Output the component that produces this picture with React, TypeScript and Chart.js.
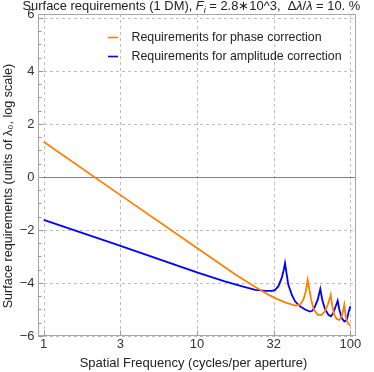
import React, { useEffect, useRef } from "react";
import { Chart, registerables } from "chart.js";

Chart.register(...registerables);

// ---- data ----
const phaseFreq = [1, 3, 10, 18, 24, 29.2, 32.3, 37.5, 43.6, 47, 49.4, 51.2, 52.7, 53.8, 55.4, 57.4, 58.9, 61.3, 65, 68.3, 71.9, 74.5, 76.3, 78.7, 81.5, 84.8, 87.9, 91.4, 93.3, 96.2, 100];
const phaseReq = [1.33, -0.59, -2.68, -3.7, -4.15, -4.44, -4.57, -4.73, -4.85, -4.82, -4.63, -4.32, -3.88, -4.18, -4.6, -4.95, -5.07, -5.2, -5.2, -5.07, -4.76, -4.44, -4.88, -5.2, -5.36, -5.39, -5.26, -4.82, -5.26, -5.51, -5.61];

const ampFreq = [1, 3, 10, 15, 20, 24, 28, 31, 32.3, 33.9, 35.7, 36.8, 37.5, 38.5, 39.4, 41.5, 43.6, 47, 50.7, 54.6, 56.5, 58.2, 61.3, 63.7, 65.6, 68.3, 71.9, 74.8, 77.5, 80.3, 82.7, 84.8, 87.9, 91.4, 94.8, 97.1, 100];
const ampReq = [-1.62, -2.55, -3.6, -3.93, -4.14, -4.26, -4.3, -4.3, -4.26, -4.13, -3.81, -3.5, -3.25, -3.69, -4.07, -4.44, -4.69, -4.88, -5.0, -5.08, -5.05, -4.95, -4.63, -4.22, -4.63, -4.98, -5.2, -5.26, -5.13, -4.88, -4.67, -5.0, -5.32, -5.45, -5.39, -5.13, -4.88];

const seriesLabels = ["Requirements for phase correction", "Requirements for amplitude correction"];
const seriesColors = ["#ff8000", "#0000ff"];

const xTickValues = [1, 3.1623, 10, 31.623, 100];
const xTickLabels = ["1", "3", "10", "32", "100"];
const yTickValues = [-6, -4, -2, 0, 2, 4, 6];
const yTickLabels = ["\u22126", "\u22124", "\u22122", "0", "2", "4", "6"];

const xTitle = "Spatial Frequency (cycles/per aperture)";
const yTitle = "Surface requirements (units of \u03bb\u2080, log scale)";
const titleParts: { t: string; it?: boolean; sub?: boolean }[] = [
  { t: "Surface requirements (1 DM), " },
  { t: "F", it: true },
  { t: "i", it: true, sub: true },
  { t: " = 2.8\u221710^3,  " },
  { t: "\u0394" },
  { t: "\u03bb", it: true },
  { t: "/" },
  { t: "\u03bb", it: true },
  { t: " = 10. %" },
];

const FONT = "'Liberation Sans', Arial, Helvetica, sans-serif";
const TEXT = "#222";
const TICKTEXT = "#333";

const decor = {
  id: "decor",
  beforeDatasetsDraw(chart: any) {
    const { ctx, chartArea: a, scales } = chart;
    const x = scales.x, y = scales.y;
    ctx.save();
    ctx.lineWidth = 1;
    ctx.strokeStyle = "#bdbdbd";
    ctx.setLineDash([3, 3]);
    for (const v of xTickValues) {
      const px = Math.round(x.getPixelForValue(v)) + 0.5;
      ctx.beginPath(); ctx.moveTo(px, a.top); ctx.lineTo(px, a.bottom); ctx.stroke();
    }
    for (const v of yTickValues) {
      if (v === 0) continue;
      const py = Math.round(y.getPixelForValue(v)) + 0.5;
      ctx.beginPath(); ctx.moveTo(a.left, py); ctx.lineTo(a.right, py); ctx.stroke();
    }
    ctx.setLineDash([]);
    // zero line
    ctx.strokeStyle = "#808080";
    const z = Math.round(y.getPixelForValue(0)) + 0.5;
    ctx.beginPath(); ctx.moveTo(a.left, z); ctx.lineTo(a.right, z); ctx.stroke();
    // frame
    ctx.strokeStyle = "#a6a6a6";
    ctx.strokeRect(Math.round(a.left) + 0.5, Math.round(a.top) + 0.5, Math.round(a.right - a.left) - 1, Math.round(a.bottom - a.top) - 1);
    // inner ticks
    ctx.strokeStyle = "#999";
    const L = Math.round(a.left) + 0.5;
    for (let v = -6; v <= 6.001; v += 0.5) {
      const py = Math.round(y.getPixelForValue(v)) + 0.5;
      const major = Math.abs(v % 2) < 1e-6;
      ctx.beginPath(); ctx.moveTo(L, py); ctx.lineTo(L + (major ? 5 : 3), py); ctx.stroke();
    }
    const B = Math.round(a.bottom) - 0.5;
    for (const v of xTickValues) {
      const px = Math.round(x.getPixelForValue(v)) + 0.5;
      ctx.beginPath(); ctx.moveTo(px, B); ctx.lineTo(px, B - 5); ctx.stroke();
    }
    ctx.restore();
  },
  afterDraw(chart: any) {
    const { ctx, chartArea: a, scales } = chart;
    const x = scales.x, y = scales.y;
    ctx.save();
    ctx.fillStyle = TEXT;
    ctx.textBaseline = "alphabetic";
    // title
    const size = 12.9;
    let cx = 22.5;
    const base = 10;
    for (const p of titleParts) {
      const fs = p.sub ? size * 0.7 : size;
      ctx.font = `${p.it ? "italic " : ""}${fs}px ${FONT}`;
      ctx.fillText(p.t, cx, base + (p.sub ? 2.5 : 0));
      cx += ctx.measureText(p.t).width;
    }
    // tick labels
    ctx.fillStyle = TICKTEXT;
    ctx.font = `13px ${FONT}`;
    ctx.textBaseline = "middle";
    ctx.textAlign = "right";
    yTickValues.forEach((v, i) => {
      let py = y.getPixelForValue(v);
      if (py < a.top + 6) py = a.top;
      ctx.fillText(yTickLabels[i], 34.5, py);
    });
    ctx.textAlign = "center";
    xTickValues.forEach((v, i) => {
      ctx.fillText(xTickLabels[i], x.getPixelForValue(v), 344.5);
    });
    // axis titles
    ctx.fillStyle = TEXT;
    ctx.font = `13px ${FONT}`;
    ctx.fillText(xTitle, 193.5, 363.5);
    ctx.save();
    ctx.translate(9, 186);
    ctx.rotate(-Math.PI / 2);
    ctx.font = `12.6px ${FONT}`;
    ctx.fillText(yTitle, 0, 0);
    ctx.restore();
    // legend
    ctx.textAlign = "left";
    ctx.font = `12.4px ${FONT}`;
    const rows = [37.5, 56.5];
    seriesLabels.forEach((lab, i) => {
      ctx.strokeStyle = seriesColors[i];
      ctx.lineWidth = 1.6;
      ctx.beginPath(); ctx.moveTo(108, rows[i]); ctx.lineTo(118, rows[i]); ctx.stroke();
      ctx.fillStyle = TEXT;
      ctx.fillText(lab, 131.5, rows[i]);
    });
    ctx.restore();
  },
};

export default function App() {
  const ref = useRef<HTMLCanvasElement>(null);
  useEffect(() => {
    if (!ref.current) return;
    const mk = (fx: number[], fy: number[]) => fx.map((v, i) => ({ x: v, y: fy[i] }));
    const chart = new Chart(ref.current, {
      type: "scatter",
      data: {
        datasets: [
          { label: seriesLabels[0], data: mk(phaseFreq, phaseReq), showLine: true, borderColor: seriesColors[0], borderWidth: 1.8, pointRadius: 0, tension: 0 },
          { label: seriesLabels[1], data: mk(ampFreq, ampReq), showLine: true, borderColor: seriesColors[1], borderWidth: 1.8, pointRadius: 0, tension: 0 },
        ],
      },
      options: {
        animation: false,
        responsive: false,
        devicePixelRatio: 1,
        layout: { padding: { left: 0, right: 18, top: 14, bottom: 0 } },
        plugins: { legend: { display: false }, title: { display: false }, tooltip: { enabled: false } },
        scales: {
          x: {
            type: "logarithmic",
            min: 0.918,
            max: 108.9,
            grid: { display: false },
            border: { display: false },
            afterBuildTicks: (s: any) => { s.ticks = xTickValues.map((v) => ({ value: v })); },
            afterFit: (s: any) => { s.height = 36; },
            ticks: { display: false },
          },
          y: {
            type: "linear",
            min: -6,
            max: 6.15,
            grid: { display: false },
            border: { display: false },
            afterBuildTicks: (s: any) => { s.ticks = yTickValues.map((v) => ({ value: v })); },
            afterFit: (s: any) => { s.width = 38; },
            ticks: { display: false },
          },
        },
      },
      plugins: [decor],
    } as any);
    return () => chart.destroy();
  }, []);
  return (
    <div style={{ position: "absolute", left: 0, top: 0, width: 374, height: 372, background: "#fff" }}>
      <canvas ref={ref} width={374} height={372} style={{ display: "block", width: 374, height: 372 }} />
    </div>
  );
}
